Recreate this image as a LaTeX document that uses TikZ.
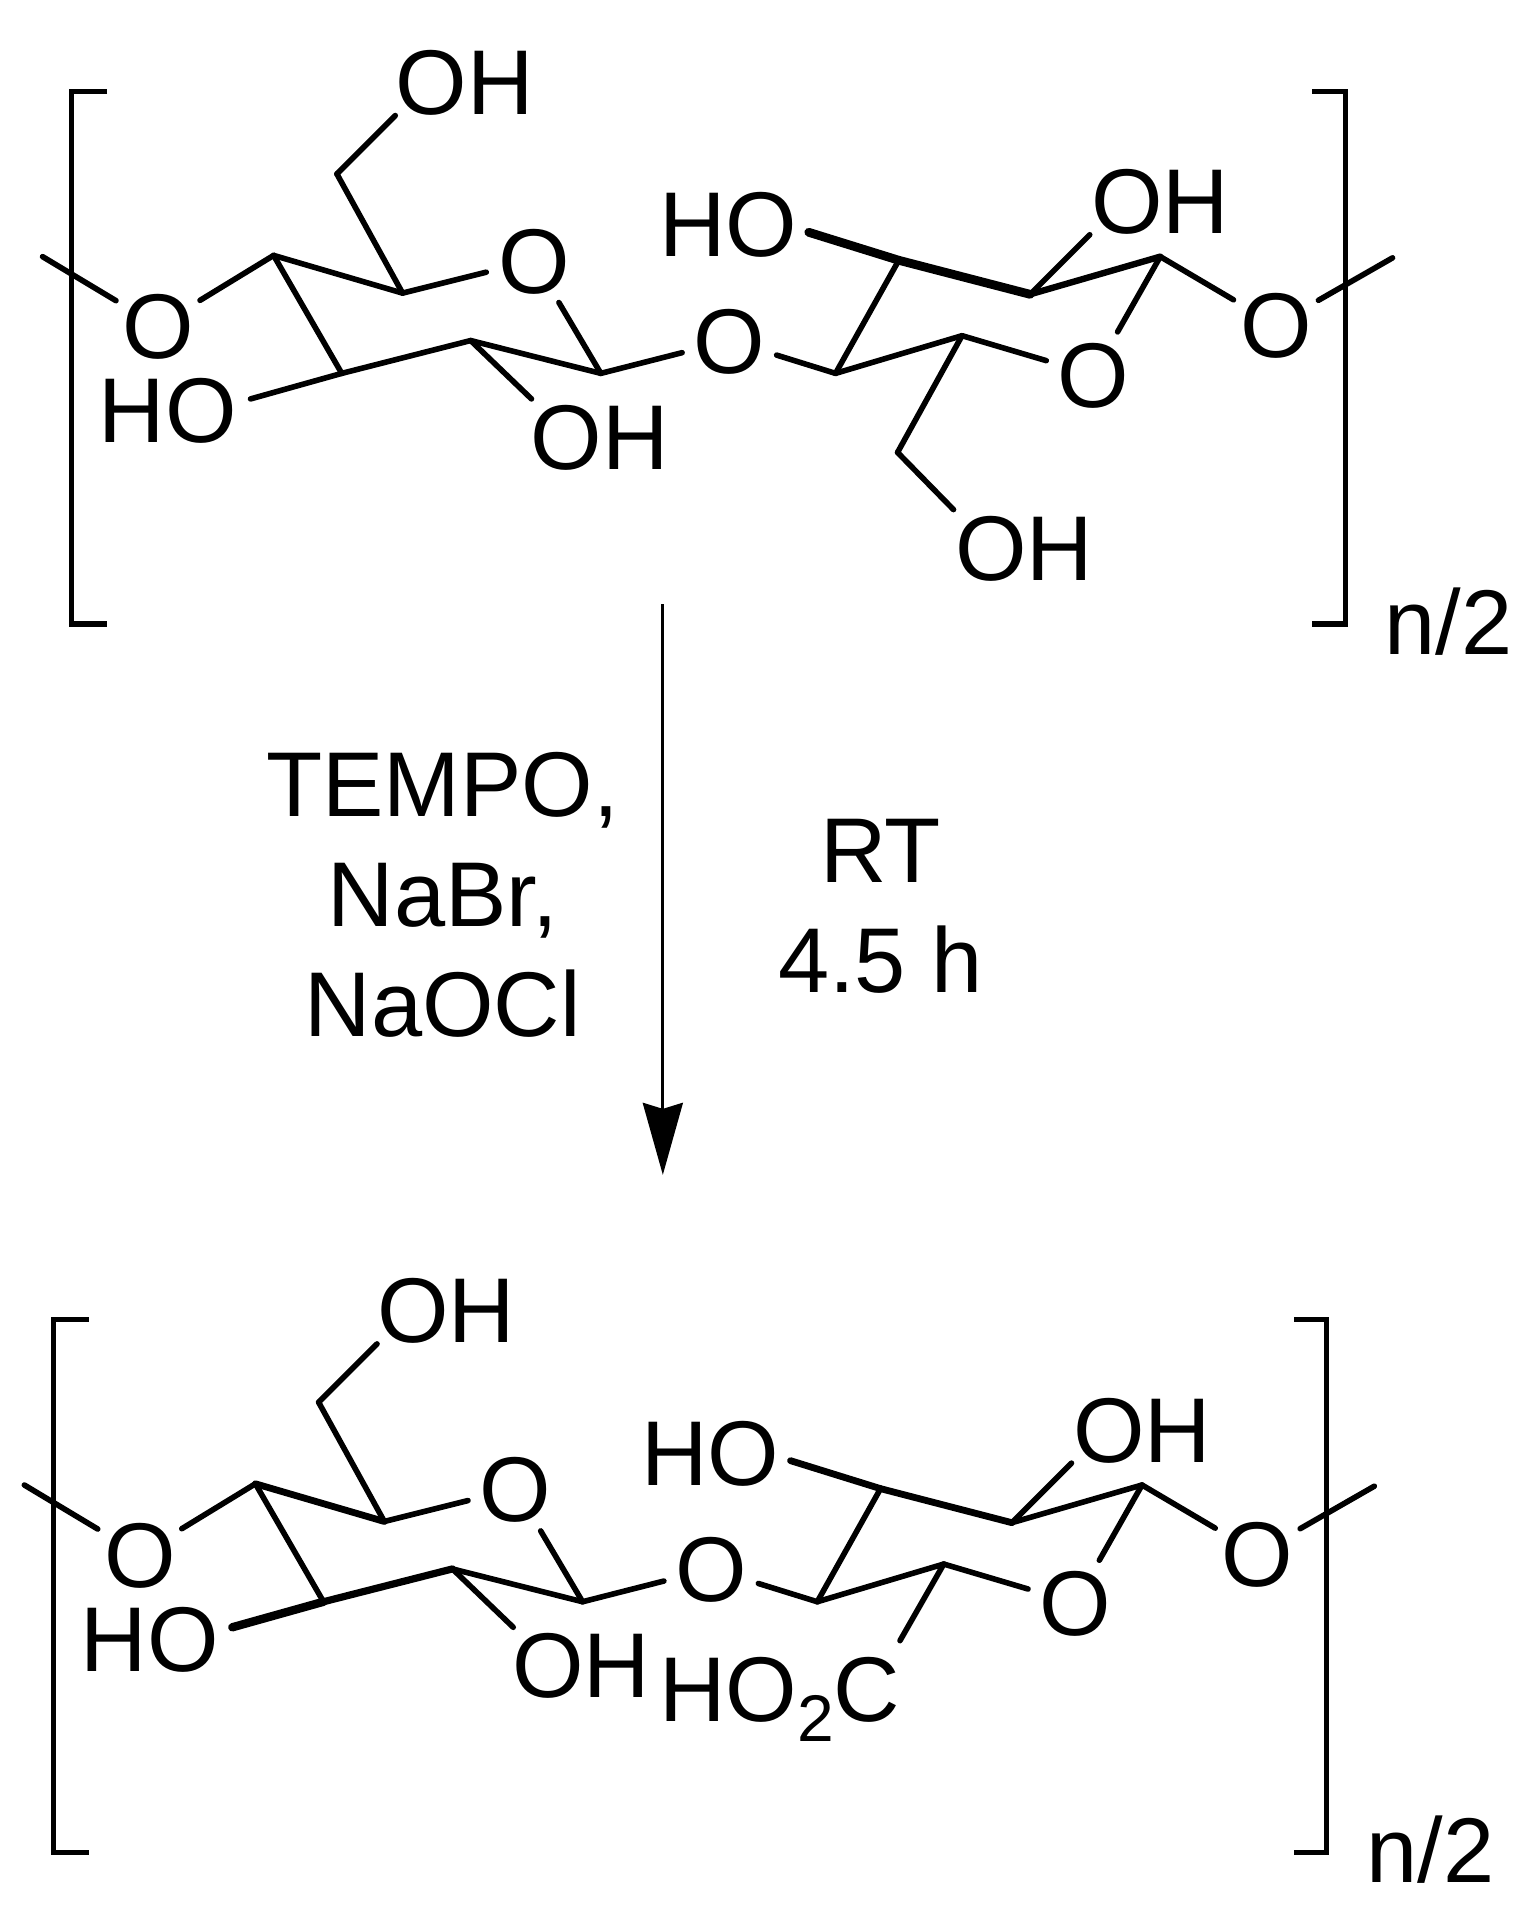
\documentclass[tikz,border=0pt]{standalone}
\usepackage{fontspec}
\setmainfont{Liberation Sans}
\usetikzlibrary{arrows.meta}
\tikzset{
  chemtext/.style={font=\fontsize{46}{55}\selectfont,inner sep=0pt,text height=33pt,text depth=0pt},
  oatom/.style={chemtext,circle,minimum size=48pt},
  bond/.style={line width=2.8pt,line cap=round,line join=miter},
  bracket/.style={line width=2.6pt,line cap=butt,line join=miter},
  plainA/.style={bond},
  wideC/.style={bond},
  wideHO/.style={bond},
  wideCC/.style={bond},
  wideD/.style={bond},
  wideE/.style={bond},
}
% common part of one repeat unit, in the coordinates of the upper one
\newcommand{\sugarunit}[1]{%
  \coordinate (#1c4) at (225,210);
  \coordinate (#1c5) at (331,241);
  \coordinate (#1c1) at (494,307);
  \coordinate (#1c2) at (387,280);
  \coordinate (#1c3) at (281,307);
  \coordinate (#1ch) at (277,143);
  \coordinate (#1d4) at (687,307);
  \coordinate (#1d5) at (791,276);
  \coordinate (#1d1) at (954,211);
  \coordinate (#1d2) at (847,242);
  \coordinate (#1d3) at (739,214);
  \coordinate (#1sl) at (35,211);
  \coordinate (#1sr) at (1145,212);
  \node[oatom] (#1ol) at (130,268) {O};
  \node[oatom] (#1oa) at (439,214) {O};
  \node[oatom] (#1ob) at (600,280) {O};
  \node[oatom] (#1oc) at (899,308) {O};
  \node[oatom] (#1or) at (1049,267) {O};
  \node[chemtext] (#1oh6) at (382,67) {OH};
  \node[chemtext] (#1ho3) at (138,337) {HO};
  \node[chemtext] (#1oh2) at (493,359) {OH};
  \node[chemtext] (#1hoy) at (599,184) {HO};
  \node[chemtext] (#1ohz) at (954,165) {OH};
  \draw[bond] (#1sl) -- (#1ol);
  \draw[bond] (#1ol) -- (#1c4);
  \draw[wideD] (#1c4) -- (#1c5);
  \draw[bond] (#1c5) -- (#1oa);
  \draw[bond] (#1oa) -- (#1c1);
  \draw[bond] (#1c1) -- (#1c2);
  \draw[wideCC] (#1c2) -- (#1c3);
  \draw[bond] (#1c3) -- (#1c4);
  \draw[bond] (#1c5) -- (#1ch);
  \draw[bond] (#1ch) -- ([shift={(-57,28)}]#1oh6.center);
  \draw[wideC] (#1c3) -- ([shift={(68,-9)}]#1ho3.center);
  \draw[bond] (#1c2) -- ([shift={(-56,-31)}]#1oh2.center);
  \draw[bond] (#1c1) -- (#1ob);
  \draw[bond] (#1ob) -- (#1d4);
  \draw[bond] (#1d4) -- (#1d5);
  \draw[bond] (#1d5) -- (#1oc);
  \draw[bond] (#1oc) -- (#1d1);
  \draw[wideE] (#1d1) -- (#1d2);
  \draw[wideHO] (#1d2) -- (#1d3);
  \draw[bond] (#1d3) -- (#1d4);
  \draw[wideHO] (#1d3) -- ([shift={(66,7)}]#1hoy.center);
  \draw[bond] (#1d2) -- ([shift={(-58,28)}]#1ohz.center);
  \draw[bond] (#1d1) -- (#1or);
  \draw[bond] (#1or) -- (#1sr);
  \coordinate (#1bla) at (88,75);
  \coordinate (#1blb) at (59,75);
  \coordinate (#1blc) at (59,513);
  \coordinate (#1bld) at (88,513);
  \coordinate (#1bra) at (1079,75);
  \coordinate (#1brb) at (1106,75);
  \coordinate (#1brc) at (1106,513);
  \coordinate (#1brd) at (1079,513);
  \draw[bracket] (#1bla) -- (#1blb) -- (#1blc) -- (#1bld);
  \draw[bracket] (#1bra) -- (#1brb) -- (#1brc) -- (#1brd);
  \node[chemtext] (#1n) at (1191,511) {n/2};
}
\begin{document}
\begin{tikzpicture}[x=0.60817pt,y=-0.60817pt]
  \useasboundingbox[fill=white] (0,0) rectangle (1248,1568);
  % upper polymer
  \begin{scope}[wideHO/.style={bond,line width=4.4pt},wideE/.style={bond,line width=3.2pt}]
    \sugarunit{t}
    \node[chemtext] (toh3) at (842,450) {OH};
    \coordinate (tce) at (738,372);
    \draw[bond] (td5) -- (tce);
    \draw[bond] (tce) -- ([shift={(-58,-31)}]toh3.center);
  \end{scope}
  % reaction arrow
  \coordinate (arrs) at (545,497);
  \coordinate (arre) at (545,966);
  \draw[line width=1.5pt,-{Stealth[length=36pt,width=20pt,inset=3pt]}] (arrs) -- (arre);
  \node[font=\fontsize{46}{55}\selectfont,inner sep=0pt,align=center] (reag) at (364,736) {TEMPO,\\NaBr,\\NaOCl};
  \node[font=\fontsize{46}{55}\selectfont,inner sep=0pt,align=center] (cond) at (724,745) {RT\\4.5 h};
  % lower polymer
  \begin{scope}[shift={(-15,1010)},
      wideC/.style={bond,line width=4.2pt},wideCC/.style={bond,line width=3.6pt},
      wideD/.style={bond,line width=3.4pt},wideHO/.style={bond,line width=3.4pt}]
    \sugarunit{u}
    \node[chemtext] (uco) at (656,378) {HO\raisebox{-10pt}{\fontsize{33}{33}\selectfont 2}C};
    \draw[bond] (ud5) -- ([shift={(99,-39)}]uco.center);
  \end{scope}
\end{tikzpicture}
\end{document}
